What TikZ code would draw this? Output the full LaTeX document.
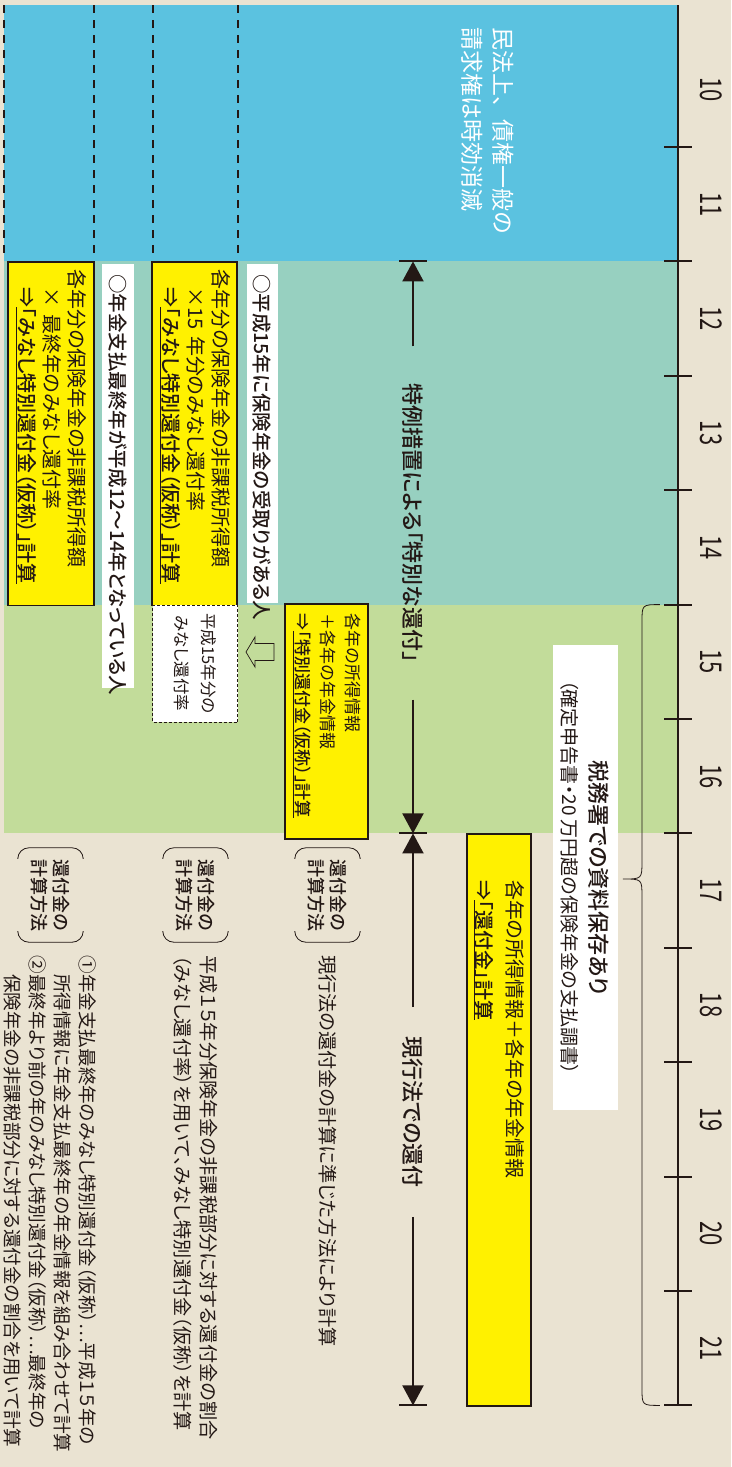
\documentclass[tikz,border=0pt]{standalone}
\usepackage{fontspec}
\setmainfont{Noto Sans CJK JP}[BoldFont={Noto Sans CJK JP Medium}, RawFeature=+palt]
\newfontfamily\monojp{Noto Sans CJK JP}[BoldFont={Noto Sans CJK JP Medium}]
\usetikzlibrary{calc,positioning,arrows.meta}

\definecolor{paper}{HTML}{EAE3D2}
\definecolor{sky}{HTML}{5BC2E0}
\definecolor{mint}{HTML}{97D0C0}
\definecolor{leaf}{HTML}{C2DC9A}
\definecolor{lemon}{HTML}{FFF100}
\definecolor{ink}{HTML}{231815}

\newcommand{\fsz}[2]{\fontsize{#1}{#2}\selectfont}

\tikzset{
  ybox/.style={draw=ink, line width=1.8pt, fill=lemon, anchor=north west, align=left, inner xsep=7pt},
  wbox/.style={fill=white, anchor=north west, align=left, inner xsep=10pt, font=\fsz{19.5}{24}\bfseries},
  ratebox/.style={draw=ink, line width=.8pt, dash pattern=on 3pt off 2pt, fill=white, anchor=north west, align=center, font=\fsz{16.5}{27}},
  guide/.style={line width=1.6pt, dash pattern=on 8pt off 7pt},
  bar/.style={line width=2pt},
  span/.style={line width=2pt, -{Triangle[length=20pt,width=21pt]}},
  spanlabel/.style={font=\fsz{22}{26}\bfseries, inner xsep=37pt},
  howto/.style={font=\fsz{18}{22}\bfseries, align=center, minimum width=94pt, minimum height=65pt, inner sep=0pt},
  paren/.style={line width=.8pt, rounded corners=11pt},
  howtext/.style={font=\fsz{19.2}{25.5}, align=left, inner sep=0pt}
}

\begin{document}
\begin{tikzpicture}[x=1pt, y=-1pt, rotate=-90, transform shape, color=ink]
\def\yr{114.4}
\def\yo{147}

\useasboundingbox (0,0) rectangle (1467,731);
\fill[paper] (0,0) rectangle (1467,731);

% periods
\fill[sky] (5,53) rectangle ({\yo+\yr},727);
\fill[mint] ({\yo+\yr},53) rectangle ({\yo+4*\yr},727);
\fill[leaf] ({\yo+4*\yr},53) rectangle ({\yo+6*\yr},727);

\foreach \g in {727,637,578,493}
	\draw[guide] (5,\g) -- (255,\g);

\node[anchor=west, align=left, text=white, font=\monojp\fsz{23}{31}, inner sep=0pt] (civil) at (27,243.5) {民法上、債権一般の\\請求権は時効消滅};

% time axis
\draw[bar] (5,53) -- ({\yo+11*\yr},53);
\foreach \n in {0,1,...,11}
{
	\pgfmathsetmacro{\tx}{\yo+\n*\yr}
	\pgfmathsetmacro{\lx}{\yo-57.2+\n*\yr}
	\pgfmathtruncatemacro{\yy}{\n+10}
	\draw[bar] (\tx,39) -- (\tx,67);
	\node[font=\fsz{30}{30}, inner sep=0pt] (yr\yy) at (\lx,20) {\scalebox{.73}[1]{\yy}};
}

% boxes
\node[ybox, minimum width=343.2pt, minimum height=86pt, text width=329pt, font=\fsz{20}{25}] (calcA) at ({\yo+\yr},636) {各年分の保険年金の非課税所得額\\\hspace*{.9em}× 最終年のみなし還付率\\\hspace*{.9em}{\bfseries ⇒\underline{「みなし特別還付金（仮称）」計算}}};
\node[ybox, minimum width=343.2pt, minimum height=85pt, text width=329pt, font=\fsz{20}{25}] (calcB) at ({\yo+\yr},493) {各年分の保険年金の非課税所得額\\\hspace*{.9em}×15 年分のみなし還付率\\\hspace*{.9em}{\bfseries ⇒\underline{「みなし特別還付金（仮称）」計算}}};

\node[wbox, minimum width=424pt, minimum height=32pt, text width=404pt] (grpA) at (264,597) {○年金支払最終年が平成12～14年となっている人};
\node[wbox, minimum width=339pt, minimum height=31pt, text width=319pt, inner xsep=8pt] (grpB) at (264,453) {○平成15年に保険年金の受取りがある人};

\node[ratebox, minimum width=117pt, minimum height=85pt] (rate15) at ({\yo+4*\yr},493) {平成15年分の\\みなし還付率};

\node[ybox, minimum width=235pt, minimum height=83pt, text width=215pt, inner xsep=10pt, font=\fsz{17}{25}] (calcS) at (603,362) {各年の所得情報\\＋各年の年金情報\\{\bfseries ⇒\underline{「特別還付金（仮称）」計算}}};

\draw[line width=.7pt] (652,485) -- ++(15,-9) -- ++(-6.5,0) -- ++(0,-19) -- ++(-17,0) -- ++(0,19) -- ++(-6.5,0) -- cycle;

\node[ybox, minimum width=572pt, minimum height=64pt, text width=480pt, inner xsep=46pt, font=\fsz{20}{31}] (calcR) at ({\yo+6*\yr},199) {各年の所得情報＋各年の年金情報\\{\bfseries ⇒\underline{「還付金」計算}}};

\node[wbox, align=center, font=\fsz{19}{28}\mdseries, minimum width=465pt, minimum height=65pt, inner xsep=0pt] (taxdoc) at (645,113) {{\fsz{22}{28}\bfseries 税務署での資料保存あり}\\（確定申告書・20 万円超の保険年金の支払調書）};

\draw[line width=.8pt] ({\yo+4*\yr},71) .. controls ({\yo+4*\yr},89) .. (622,89) -- (861,89) .. controls (879,89) .. (879,108) .. controls (879,89) .. (897,89) -- (1388,89) .. controls ({\yo+11*\yr},89) .. ({\yo+11*\yr},71);

% refund spans
\coordinate (s1) at ({\yo+\yr},318);
\coordinate (s2) at ({\yo+6*\yr},318);
\coordinate (s3) at ({\yo+11*\yr},318);
\foreach \c in {s1,s2,s3}
	\draw[bar] ($(\c)+(0,-14)$) -- ($(\c)+(0,14)$);

\node[spanlabel] (special) at (523,318) {特例措置による「特別な還付」};
\node[spanlabel, inner xsep=29pt] (current) at (1112,318) {現行法での還付};
\draw[span] (special.west) -- (s1);
\draw[span] (special.east) -- (s2);
\draw[span] (current.west) -- (s2);
\draw[span] (current.east) -- (s3);

% methods
\node[howto] (how3) at (895,403.5) {還付金の\\計算方法};
\node[howto] (how1) at (895,535.5) {還付金の\\計算方法};
\node[howto] (how2) at (895,680.5) {還付金の\\計算方法};
\foreach \h in {how1,how2,how3}
{
	\draw[paren] ($(\h.north west)+(10,0)$) -- (\h.north west) -- (\h.south west) -- ($(\h.south west)+(10,0)$);
	\draw[paren] ($(\h.north east)+(-10,0)$) -- (\h.north east) -- (\h.south east) -- ($(\h.south east)+(-10,0)$);
}

\node[howtext, right=13pt of how3] (meth3) {現行法の還付金の計算に準じた方法により計算};
\node[howtext, right=13pt of how1] (meth1) {平成１５年分保険年金の非課税部分に対する還付金の割合\\（みなし還付率）を用いて、みなし特別還付金（仮称）を計算};
\node[howtext, right=13pt of how2, font=\fsz{18.6}{25}] (meth2) {①年金支払最終年のみなし特別還付金（仮称）…平成１５年の\\\phantom{①}所得情報に年金支払最終年の年金情報を組み合わせて計算\\②最終年より前の年のみなし特別還付金（仮称）…最終年の\\\phantom{②}保険年金の非課税部分に対する還付金の割合を用いて計算};

\end{tikzpicture}
\end{document}
